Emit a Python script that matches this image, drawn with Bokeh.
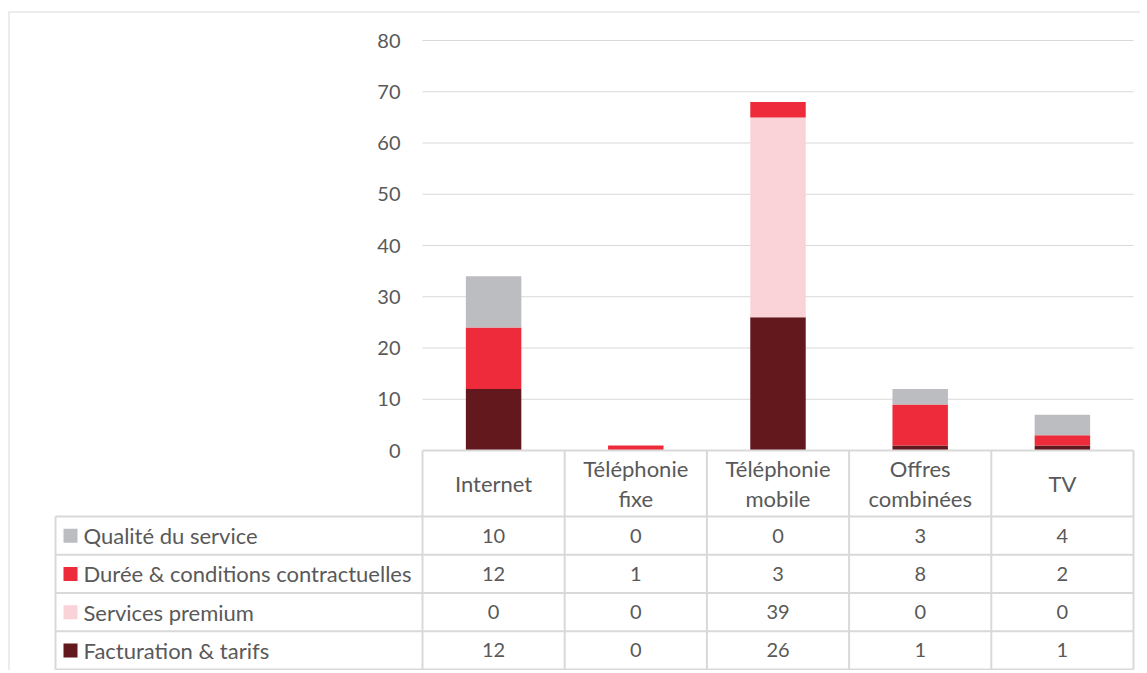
from bokeh.plotting import figure
from bokeh.models import ColumnDataSource, Range1d, FixedTicker, Span
from bokeh.core.properties import value
from bokeh.embed import file_html
from bokeh.resources import INLINE

# ---------------- data ----------------
categories = ["Internet", "Téléphonie fixe", "Téléphonie mobile", "Offres combinées", "TV"]
series_names = ["Qualité du service", "Durée & conditions contractuelles",
                "Services premium", "Facturation & tarifs"]
qualite = [10, 0, 0, 3, 4]
duree = [12, 1, 3, 8, 2]
premium = [0, 0, 39, 0, 0]
facturation = [12, 0, 26, 1, 1]
y_ticks = [0, 10, 20, 30, 40, 50, 60, 70, 80]

# ---------------- styles ----------------
colors = {
    "Qualité du service": "#BCBDC0",
    "Durée & conditions contractuelles": "#EE2B3B",
    "Services premium": "#FAD3D8",
    "Facturation & tarifs": "#63181E",
}
FONT = "Lato"
FSIZE = "22px"
NSIZE = "20px"
TXT = "#595959"
LINE = "#D9D9D9"

# ---------------- layout (page pixels) ----------------
W, H = 1140, 670
PAGE = 0
FRAME_TOP = 11
FRAME_LEFT = 8
COL_W = 142.2
AXIS_X = 422
BASE_Y = 450
PX_PER_UNIT = 410 / 80
LEG_LEFT = 55
HEADER_BOTTOM = 516
TABLE_BOTTOM = 669
ROW_H = (TABLE_BOTTOM - HEADER_BOTTOM) / 4


def ux(px):
    return -0.5 + (px - AXIS_X) / COL_W


def uy(py):
    return (BASE_Y - py) / PX_PER_UNIT


x_range = Range1d(ux(PAGE + FRAME_LEFT), ux(PAGE + W))
y_range = Range1d(uy(PAGE + H), uy(PAGE + FRAME_TOP))

p = figure(width=W, height=H, x_range=x_range, y_range=y_range,
           output_backend="svg", toolbar_location=None,
           min_border_left=FRAME_LEFT, min_border_right=0,
           min_border_top=FRAME_TOP, min_border_bottom=0)
p.outline_line_color = None
p.xaxis.visible = False
p.xgrid.visible = False
p.ygrid.visible = False

ax = p.yaxis[0]
ax.fixed_location = -0.5
ax.ticker = FixedTicker(ticks=y_ticks)
ax.axis_line_color = None
ax.major_tick_line_color = None
ax.minor_tick_line_color = None
ax.major_tick_out = 0
ax.major_tick_in = 0
ax.major_label_standoff = 22
ax.major_label_text_font = FONT
ax.major_label_text_font_size = NSIZE
ax.major_label_text_color = TXT

n = len(categories)
left_edge, right_edge = -0.5, n - 0.5

# grid lines
p.segment(x0=[left_edge] * (len(y_ticks) - 1), x1=[right_edge] * (len(y_ticks) - 1),
          y0=y_ticks[1:], y1=y_ticks[1:], line_color=LINE, line_width=1)

# stacked bars
src = ColumnDataSource(dict(
    x=list(range(n)),
    **{"Facturation & tarifs": facturation,
       "Services premium": premium,
       "Durée & conditions contractuelles": duree,
       "Qualité du service": qualite}))
stack_order = ["Facturation & tarifs", "Services premium",
               "Durée & conditions contractuelles", "Qualité du service"]
p.vbar_stack(stack_order, x="x", width=0.39, source=src,
             color=[colors[s] for s in stack_order], line_color=None)

# table lines
row_lines = [HEADER_BOTTOM + ROW_H * i for i in range(5)]
p.segment(x0=[left_edge], x1=[right_edge], y0=[0], y1=[0], line_color=LINE, line_width=2)
p.segment(x0=[ux(LEG_LEFT)] * len(row_lines), x1=[right_edge] * len(row_lines),
          y0=[uy(r) for r in row_lines], y1=[uy(r) for r in row_lines],
          line_color=LINE, line_width=2)
vx = [left_edge + k for k in range(n + 1)]
p.segment(x0=vx, x1=vx, y0=[0] * len(vx), y1=[uy(TABLE_BOTTOM)] * len(vx),
          line_color=LINE, line_width=2)
p.segment(x0=[ux(LEG_LEFT)], x1=[ux(LEG_LEFT)], y0=[uy(HEADER_BOTTOM)],
          y1=[uy(TABLE_BOTTOM)], line_color=LINE, line_width=2)

# header labels
header = [c.replace(" ", "\n", 1) for c in categories]
p.text(x=list(range(n)), y=[uy((BASE_Y + HEADER_BOTTOM) / 2)] * n, text=header,
       text_align="center", text_baseline="middle", text_font=value(FONT),
       text_font_size=FSIZE, text_color=TXT, text_line_height=1.1)

# legend column
row_centers = [uy(HEADER_BOTTOM + ROW_H * (i + 0.5)) for i in range(4)]
p.scatter(x=[ux(70)] * 4, y=row_centers, marker="square", size=14,
          color=[colors[s] for s in series_names], line_color=None)
p.text(x=[ux(83)] * 4, y=row_centers, text=series_names, text_align="left",
       text_baseline="middle", text_font=value(FONT), text_font_size=FSIZE,
       text_color=TXT)

# values
rows = [qualite, duree, premium, facturation]
tx, ty, tt = [], [], []
for r, vals in enumerate(rows):
    for i, v in enumerate(vals):
        tx.append(i)
        ty.append(row_centers[r])
        tt.append(str(v))
p.text(x=tx, y=ty, text=tt, text_align="center", text_baseline="middle",
       text_font=value(FONT), text_font_size=NSIZE, text_color=TXT)

# outer chart border (top and left)
p.add_layout(Span(location=x_range.start, dimension="height", line_color=LINE, line_width=2))
p.add_layout(Span(location=y_range.end, dimension="width", line_color=LINE, line_width=2))

open("out.html", "w").write(file_html(p, INLINE))
